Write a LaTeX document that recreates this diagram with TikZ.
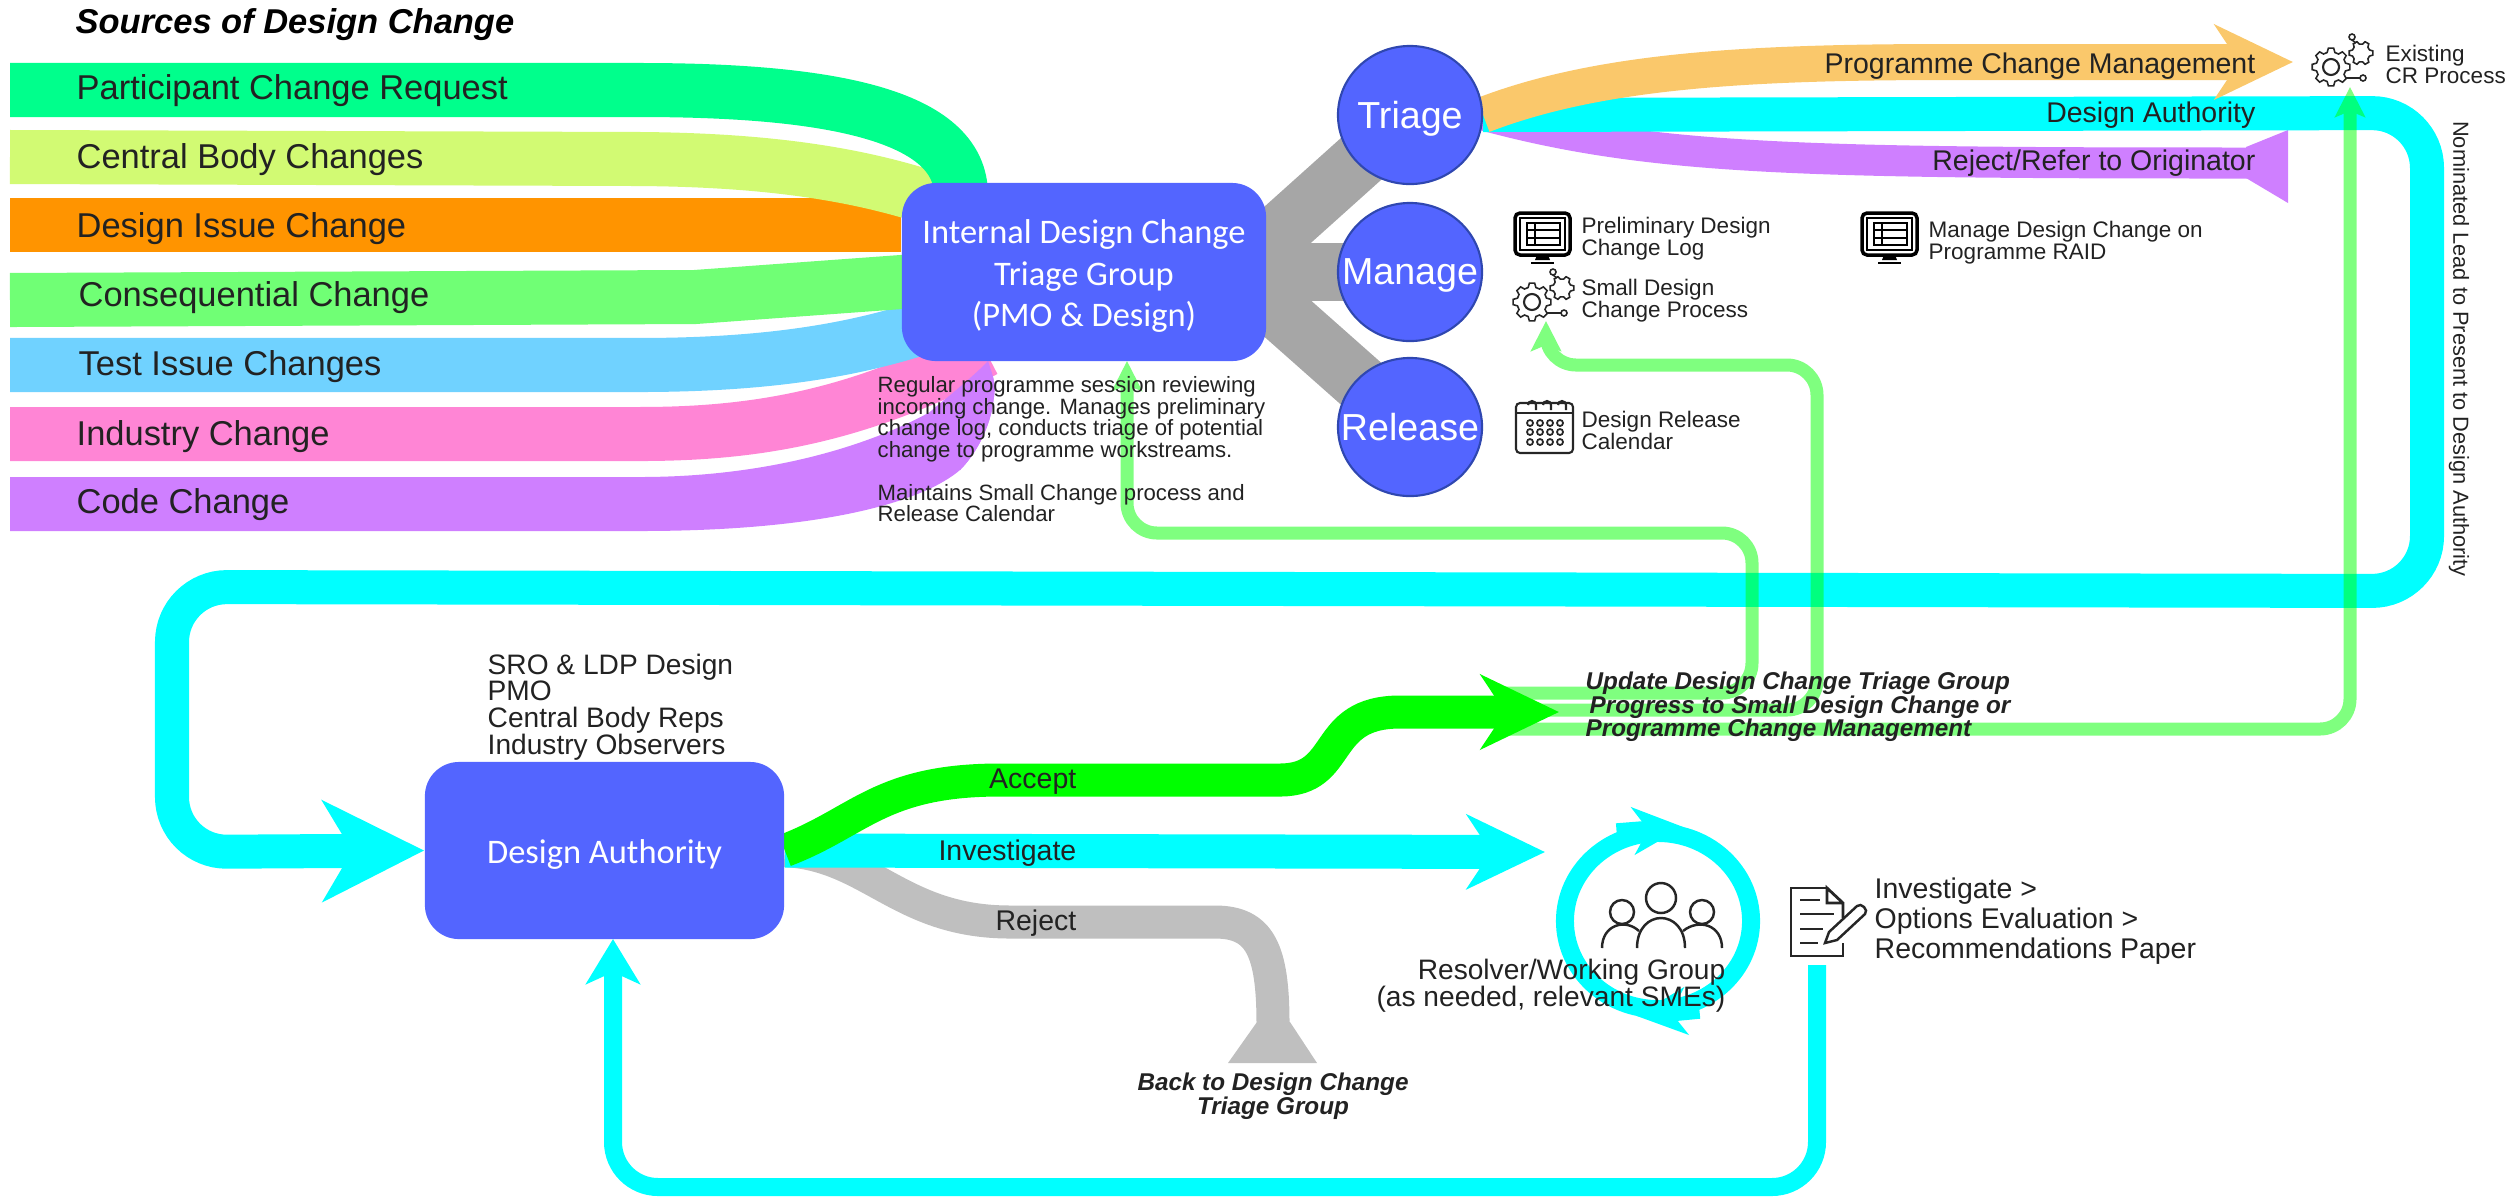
\documentclass[tikz,border=0pt]{standalone}
\usepackage{fontspec}
\setmainfont{Liberation Sans}
\newfontfamily\boxfont{Carlito}
\usetikzlibrary{arrows.meta,shapes.geometric,backgrounds}

\definecolor{pcrcol}{HTML}{00FF8C}
\definecolor{cbccol}{HTML}{D2FA73}
\definecolor{dicol}{HTML}{FF9400}
\definecolor{cccol}{HTML}{70FF75}
\definecolor{ticol}{HTML}{70D2FF}
\definecolor{indcol}{HTML}{FF85D5}
\definecolor{codecol}{HTML}{CF7FFF}
\definecolor{boxcol}{HTML}{5365FF}
\definecolor{boxedge}{HTML}{2F47B0}
\definecolor{flowcol}{HTML}{00FFFF}
\definecolor{pcmcol}{HTML}{FAC86B}
\definecolor{rejcol}{HTML}{BFBFBF}
\definecolor{stepcol}{HTML}{A6A6A6}
\definecolor{txtcol}{HTML}{222222}

\tikzset{
    srcband/.style={line width=0.54cm},
    srclabel/.style={anchor=west, inner sep=0pt, text=txtcol, font=\fontsize{9.8}{11}\selectfont},
    title/.style={anchor=west, inner sep=0pt, font=\fontsize{9.8}{11}\selectfont\bfseries\itshape},
    smalltxt/.style={anchor=west, inner sep=0pt, align=left, text=txtcol, font=\fontsize{6.4}{6.25}\selectfont},
    flowtxt/.style={anchor=east, inner sep=0pt, text=txtcol, font=\fontsize{8.1}{9}\selectfont},
    midtxt/.style={inner sep=0pt, text=txtcol, font=\fontsize{8}{7.6}\selectfont},
    boldtxt/.style={inner sep=0pt, text=txtcol, font=\fontsize{6.9}{6.7}\selectfont\bfseries\itshape},
    groupbox/.style={fill=boxcol, rounded corners=0.34cm, inner sep=0pt, label={[yshift=-0.04cm, text=white, align=center, font=\boxfont\fontsize{9.8}{11.7}\selectfont]center:{#1}}},
    stepcircle/.style={draw=boxedge, line width=0.6pt, fill=boxcol, ellipse, inner sep=0pt, minimum width=1.44cm, minimum height=1.38cm, label={[text=white, text depth=0pt, font=\fontsize{10.7}{12}\selectfont]center:#1}},
    stepband/.style={draw=stepcol, line width=0.58cm},
    flow/.style={draw=flowcol, line width=0.34cm},
    loopflow/.style={draw=flowcol, line width=0.18cm},
    thinflow/.style={draw=green, line width=0.13cm, rounded corners=0.3cm},
    bighead/.style={-{Stealth[length=1.01cm, width=1cm, inset=0.29cm]}},
    midhead/.style={-{Stealth[length=0.78cm, width=0.74cm, inset=0.24cm]}},
    ringhead/.style={-{Stealth[length=0.5cm, width=0.47cm, inset=0.15cm]}},
    slimhead/.style={-{Stealth[length=0.3cm, width=0.3cm, inset=0.06cm]}},
    icon/.style={draw=black!85, line width=0.6pt},
    gearset/.pic={
        \draw[icon, line width=0.45pt] (-8:19) \foreach \a in {0,45,...,315} { -- (\a-8:19) -- (\a+8:19) -- (\a+15:15) -- (\a+30:15) } -- cycle;
        \draw[icon] (0,0) circle (8);
        \draw[icon, line width=0.45pt, shift={(30,-14)}] (-10:12) \foreach \a in {0,60,...,300} { -- (\a-10:12) -- (\a+10:12) -- (\a+20:9) -- (\a+40:9) } -- cycle;
        \draw[icon, line width=0.45pt] (21,-27) -- (25,-24);
        \draw[icon, line width=0.45pt] (21,-30) circle (3);
        \draw[icon, line width=0.45pt] (15,11) -- (29,11);
        \draw[icon, line width=0.45pt] (32,11) circle (3);
    },
    screenset/.pic={
        \draw[black, line width=1pt, rounded corners=0.05cm] (0,0) rectangle (55,42);
        \draw[black, line width=0.4pt] (5,5) rectangle (50,37);
        \draw[black, line width=0.7pt] (12,10) rectangle (45,32);
        \foreach \r in {17,25} \draw[black, line width=0.7pt] (12,\r) -- (45,\r);
        \draw[black, line width=0.7pt] (20,10) -- (20,32);
        \fill[black] (22,42) -- (33,42) -- (35,47) -- (20,47) -- cycle;
        \draw[black, line width=0.8pt] (16,50) -- (39,50);
    },
    calendarset/.pic={
        \draw[icon, rounded corners=0.04cm] (0,5) rectangle (57,55);
        \draw[icon] (0,15) -- (57,15);
        \foreach \c in {16,31,46} \draw[icon] (\c-4,7) arc (180:360:4) -- (\c+4,12);
        \foreach \c in {14,24,34,44} \foreach \r in {25,34,44} \draw[icon, line width=0.5pt] (\c,\r) circle (3);
    },
    peopleset/.pic={
        \draw[icon, line width=0.7pt] (0,0) circle (15);
        \draw[icon, line width=0.7pt] (-39,14) circle (12);
        \draw[icon, line width=0.7pt] (41,14) circle (12);
        \draw[icon, line width=0.7pt] (-24,50) .. controls (-24,10) and (24,10) .. (24,50);
        \draw[icon, line width=0.7pt] (-59,50) .. controls (-59,27) and (-36,20) .. (-22,33);
        \draw[icon, line width=0.7pt] (61,50) .. controls (61,27) and (38,20) .. (22,33);
    },
    paperset/.pic={
        \draw[icon, line width=0.8pt] (36,0) -- (0,0) -- (0,68) -- (52,68) -- (52,55);
        \draw[icon, line width=0.8pt] (52,30) -- (52,15) -- (36,0) -- (36,15) -- (52,15);
        \draw[icon, line width=0.8pt] (9,12) -- (29,12) (9,26) -- (43,26) (9,41) -- (32,41) (9,55) -- (27,55);
        \draw[icon, line width=0.7pt] (34,55) -- (38,44) -- (66,18) .. controls (70,14) and (78,22) .. (74,26) -- (46,52) -- cycle;
    }
}

\begin{document}
\begin{tikzpicture}[x=0.01cm, y=-0.01cm]
    \useasboundingbox (0,0) rectangle (2509,1196);

    \coordinate (pcrin) at (10,90);
    \coordinate (cbcin) at (10,157);
    \coordinate (diin) at (10,225);
    \coordinate (ccin) at (10,300);
    \coordinate (tiin) at (10,365);
    \coordinate (indin) at (10,434);
    \coordinate (pcrout) at (961,195);
    \coordinate (cbcout) at (950,205);
    \coordinate (ccout) at (915,281);
    \coordinate (tiout) at (930,325);
    \coordinate (indout) at (985,350);
    \coordinate (stephub) at (1235,272);
    \coordinate (idgin) at (1127,361);
    \coordinate (gearin) at (1546,321);
    \coordinate (crin) at (2350,87);
    \coordinate (pcmout) at (2293,62);
    \coordinate (rejout) at (2248,163);
    \coordinate (updstart) at (1500,693);
    \coordinate (progstart) at (1500,710);
    \coordinate (crstart) at (1500,729);
    \coordinate (accout) at (1559,712);
    \coordinate (invout) at (1545,852);
    \coordinate (rejdown) at (1273,1024);
    \coordinate (docout) at (1817,965);
    \coordinate (dain) at (613,939);

    \node[groupbox={Internal Design Change\\Triage Group\\(PMO \& Design)}, minimum width=3.64cm, minimum height=1.78cm] (idg) at (1084,272) {};
    \node[groupbox={Design Authority}, minimum width=3.59cm, minimum height=1.77cm] (da) at (604.5,850.5) {};

    \node[stepcircle=Triage] (triage) at (1410,115) {};
    \node[stepcircle=Manage] (manage) at (1410,272) {};
    \node[stepcircle=Release] (release) at (1410,427) {};

    \node[ellipse, draw=flowcol, line width=0.18cm, inner sep=0pt, minimum width=1.86cm, minimum height=1.76cm] (wg) at (1658,921) {};

    \begin{scope}[on background layer]
        % sources
        \draw[srcband, dicol] (diin) -- (idg.west |- diin);
        \fill[codecol] (10,477) -- (640,477) .. controls (770,477) and (870,445) .. (930,412) .. controls (950,395) and (975,375) .. (988,361) .. controls (996,385) .. (992,410) .. controls (985,440) and (970,460) .. (960,470) .. controls (925,500) and (830,531) .. (640,531) -- (10,531) -- cycle;
        \draw[srcband, indcol] (indin) -- (640,434) .. controls (760,434) and (860,415) .. (indout);
        \fill[codecol] (930,412) .. controls (950,395) and (975,375) .. (988,361) .. controls (996,385) .. (992,410) .. controls (985,440) and (970,460) .. (960,470) -- cycle;
        \draw[srcband, ticol] (tiin) -- (638,365) .. controls (760,365) and (850,352) .. (tiout);
        \draw[srcband, cccol] (ccin) -- (695,297) -- (ccout);
        \draw[srcband, cbccol] (cbcin) -- (640,159) .. controls (760,160) and (860,172) .. (cbcout);
        \draw[srcband, pcrcol] (pcrin) -- (640,90) .. controls (830,90) and (961,115) .. (pcrout);

        % out of the triage group
        \draw[stepband] (stephub) -- (triage.center);
        \draw[stepband] (stephub) -- (manage.center);
        \draw[stepband] (stephub) -- (release.center);

        % triage outcomes
        \draw[draw=codecol, line width=0.31cm] (triage.east) .. controls (1650,160) and (1800,163) .. (rejout);
        \fill[codecol] (2246,147) -- (2288,130) -- (2288,203) -- (2246,178) -- cycle;
        \draw[flow, bighead, rounded corners=0.55cm] (triage.east) -- (2427,113) -- (2427,591) -- (172,587) -- (172,852) -- (da.west);
        \draw[draw=pcmcol, line width=0.36cm, midhead] (triage.east) .. controls (1600,70) and (1750,62) .. (1950,62) -- (pcmout);

        % design authority outcomes
        \draw[draw=rejcol, line width=0.33cm] (da.east) .. controls (870,855) and (900,922) .. (1010,922) -- (1215,922) .. controls (1260,922) and (1273,950) .. (rejdown);
        \fill[rejcol] (1257,1022) -- (1290,1022) -- (1317,1063) -- (1228,1063) -- cycle;
        \draw[flow, midhead] (da.east) -- (invout);
        \begin{scope}[transparency group, opacity=.5]
            \draw[thinflow, slimhead] (updstart) -- (1752,693) -- (1752,533) -- (1127,533) -- (idgin);
            \draw[thinflow, slimhead] (progstart) -- (1817,710) -- (1817,365) -- (1546,365) -- (gearin);
            \draw[thinflow, slimhead] (crstart) -- (2350,729) -- (crin);
        \end{scope}
        \draw[draw=green, line width=0.33cm, midhead] (da.east) .. controls (860,822) and (880,780) .. (1000,780) -- (1280,780) .. controls (1345,780) and (1320,712) .. (1400,712) -- (accout);
        \draw[loopflow, rounded corners=0.45cm, -{Stealth[length=0.45cm, width=0.54cm, inset=0.12cm]}] (docout) -- (1817,1187) -- (613,1187) -- (dain);
        \draw[loopflow, ringhead] (wg.115) -- (wg.75);
        \draw[loopflow, ringhead] (wg.295) -- (wg.257);
    \end{scope}

    \node[title] (srchead) at (75,25) {Sources of Design Change};
    \node[srclabel] (pcr) at (76,91) {Participant Change Request};
    \node[srclabel] (cbc) at (76,160) {Central Body Changes};
    \node[srclabel] (di) at (76,229) {Design Issue Change};
    \node[srclabel] (cc) at (78,298) {Consequential Change};
    \node[srclabel] (ti) at (78,367) {Test Issue Changes};
    \node[srclabel] (ind) at (76,437) {Industry Change};
    \node[srclabel] (code) at (76,505) {Code Change};

    \node[smalltxt, anchor=north west, font=\fontsize{6.3}{6.1}\selectfont] (idgnote) at (877,376) {Regular programme session reviewing\\incoming change. Manages preliminary\\change log, conducts triage of potential\\change to programme workstreams.\\[6.1pt]Maintains Small Change process and\\Release Calendar};

    \node[flowtxt] (pcm) at (2256,66) {Programme Change Management};
    \node[flowtxt] (dalabel) at (2256,115) {Design Authority};
    \node[flowtxt] (rejref) at (2256,163) {Reject/Refer to Originator};
    \node[smalltxt] (crproc) at (2385,64) {Existing\\CR Process};
    \node[smalltxt] (prelim) at (1581,239) {Preliminary Design\\Change Log};
    \node[smalltxt] (smalldc) at (1581,301) {Small Design\\Change Process};
    \node[smalltxt] (raid) at (1928,243) {Manage Design Change on\\Programme RAID};
    \node[smalltxt] (relcal) at (1581,430) {Design Release\\Calendar};
    \node[smalltxt, anchor=center, rotate=-90, font=\fontsize{6.2}{7}\selectfont] (nominated) at (2459,349) {Nominated Lead to Present to Design Authority};

    \node[midtxt, anchor=west, align=left] (members) at (487,707) {SRO \& LDP Design\\PMO\\Central Body Reps\\Industry Observers};
    \node[flowtxt] (accept) at (1077,782) {Accept};
    \node[flowtxt] (investigate) at (1077,853) {Investigate};
    \node[flowtxt] (reject) at (1077,923) {Reject};
    \node[boldtxt, align=center] (backto) at (1273,1096) {Back to Design Change\\Triage Group};
    \node[boldtxt, anchor=west, align=left] (update) at (1585,707) {Update Design Change Triage Group\\\hspace{0.04cm}Progress to Small Design Change or\\Programme Change Management};
    \node[midtxt, anchor=east, align=right] (resolver) at (1726,986) {Resolver/Working Group\\(as needed, relevant SMEs)};
    \node[midtxt, anchor=west, align=left, font=\fontsize{8.1}{7.4}\selectfont] (options) at (1874,921) {Investigate >\\Options Evaluation >\\Recommendations Paper};

    \pic (gearcr) at (2331,67) {gearset};
    \pic (gearsmall) at (1532,302) {gearset};
    \pic (screenlog) at (1515,213) {screenset};
    \pic (screenraid) at (1862,213) {screenset};
    \pic (calendar) at (1516,398) {calendarset};
    \pic (people) at (1661,898) {peopleset};
    \pic (paper) at (1791,888) {paperset};
\end{tikzpicture}
\end{document}
